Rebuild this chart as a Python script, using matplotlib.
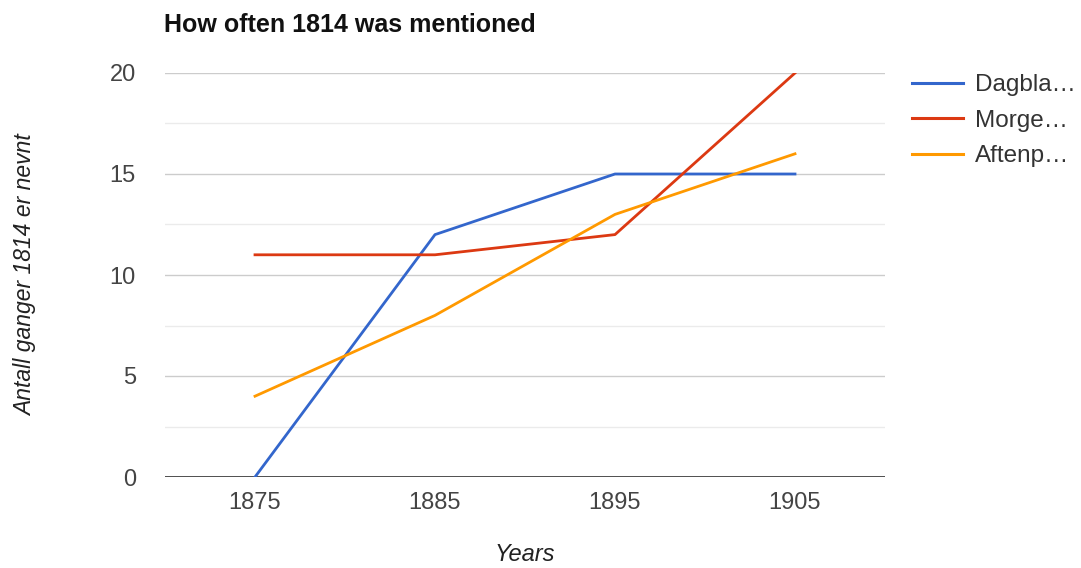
import matplotlib
matplotlib.use("Agg")
import matplotlib.pyplot as plt
from matplotlib.ticker import MultipleLocator

plt.rcParams['font.family'] = ['Liberation Sans', 'DejaVu Sans']

# data
years = ["1875", "1885", "1895", "1905"]
dagbladet = [0, 12, 15, 15]
morgenbladet = [11, 11, 12, 20]
aftenposten = [4, 8, 13, 16]
labels = ["Dagbla…", "Morge…", "Aftenp…"]
colors = ["#3366cc", "#dc3912", "#ff9900"]

W, H = 1081, 568
fig = plt.figure(figsize=(W / 100, H / 100), dpi=100)
ax = fig.add_axes([165 / W, 91 / H, 720 / W, 404 / H])

x = range(len(years))
for vals, lab, col in zip([dagbladet, morgenbladet, aftenposten], labels, colors):
    ax.plot(x, vals, color=col, lw=2.0, label=lab, zorder=3)

ax.set_xlim(-0.5, len(years) - 0.5)
ax.set_ylim(0, 20)
ax.set_xticks(list(x))
ax.set_xticklabels(years)
ax.yaxis.set_major_locator(MultipleLocator(5))
ax.yaxis.set_minor_locator(MultipleLocator(2.5))
ax.grid(which="major", axis="y", color="#cccccc", lw=1)
ax.grid(which="minor", axis="y", color="#ebebeb", lw=1)
ax.set_axisbelow(True)
ax.axhline(0, color="#333333", lw=1.2, zorder=2)

for s in ax.spines.values():
    s.set_visible(False)
ax.tick_params(which="both", length=0, labelsize=17, colors="#444444")
ax.tick_params(axis="x", pad=11)
ax.tick_params(axis="y", pad=21)

ax.set_xlabel("Years", fontsize=17, style="italic", color="#222222", labelpad=21)
ax.set_ylabel("Antall ganger 1814 er nevnt", fontsize=16.5, style="italic",
              color="#222222", labelpad=52)

fig.text(164 / W, 1 - 25 / H, "How often 1814 was mentioned",
         fontsize=18, fontweight="bold", color="#111111", va="center")

leg = ax.legend(loc="upper left", bbox_to_anchor=(912 / W, 1 - 74 / H),
                bbox_transform=fig.transFigure, frameon=False, borderpad=0,
                borderaxespad=0, fontsize=17.5, handlelength=2.1,
                handletextpad=0.5, labelspacing=0.56, labelcolor="#333333")
for h in leg.get_lines():
    h.set_linewidth(2.2)

fig.savefig("out.png", dpi=100)
